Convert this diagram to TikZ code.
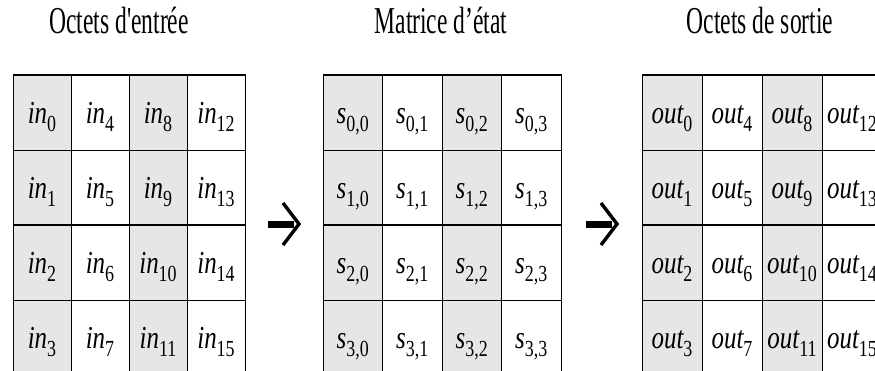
\documentclass[tikz,border=0pt]{standalone}
\usepackage{fontspec}
\setmainfont{Liberation Serif}
\newfontfamily\titlefont[FakeStretch=0.62]{Liberation Serif}
\newfontfamily\cellfont[FakeStretch=0.78]{Liberation Serif}
\definecolor{cellgray}{HTML}{E6E6E6}
\newcommand{\entry}[2]{{\cellfont\fontsize{32}{34}\selectfont\itshape #1\raisebox{-8pt}{\upshape\fontsize{23}{25}\selectfont #2}}}
\tikzset{
  gridline/.style={draw=black, line width=0.8pt},
  topline/.style={draw=black, line width=1.3pt},
  midline/.style={draw=black, line width=1.9pt},
  heading/.style={anchor=base, inner sep=0pt, font=\titlefont\fontsize{38}{40}\selectfont},
  entrytext/.style={anchor=base, inner sep=0pt},
  shaft/.style={line width=7pt},
  barb/.style={line width=3.4pt, line join=miter},
}
\begin{document}
\begin{tikzpicture}[x=1pt,y=-1pt]
\clip (0,0) rectangle (875,370);
\fill[white] (0,0) rectangle (875,370);

% titles
\node[heading] (title-in) at (119,33) {Octets d'entrée};
\node[heading] (title-state) at (441,33) {Matrice d’état};
\node[heading] (title-out) at (760,33) {Octets de sortie};

% input bytes
\foreach \c in {0,2} \fill[cellgray] (13+58*\c,75) rectangle ++(58,300);
\foreach \c in {0,...,4} \draw[gridline] (13+58*\c,75) -- ++(0,300);
\foreach \r in {1,3} \draw[gridline] (13,75+75*\r) -- ++(232,0);
\draw[topline] (13,75) -- ++(233,0);
\draw[midline] (13,225) -- ++(232,0);
\foreach \c in {0,...,3}
  \foreach \r in {0,...,3} {
    \pgfmathtruncatemacro\k{4*\c+\r}
    \node[entrytext] (in-\r-\c) at (42+58*\c,123+75*\r) {\entry{in}{\k}};
  }

% state
\foreach \c in {0,2} \fill[cellgray] (323+59.5*\c,75) rectangle ++(59.5,300);
\foreach \c in {0,...,4} \draw[gridline] (323+59.5*\c,75) -- ++(0,300);
\foreach \r in {1,3} \draw[gridline] (323,75+75*\r) -- ++(238,0);
\draw[topline] (323,75) -- ++(239,0);
\draw[midline] (323,225) -- ++(238,0);
\foreach \c in {0,...,3}
  \foreach \r in {0,...,3}
    \node[entrytext] (st-\r-\c) at (352.75+59.5*\c,123+75*\r) {\entry{s}{\r,\c}};

% output bytes
\foreach \c in {0,2} \fill[cellgray] (642+60*\c,75) rectangle ++(60,300);
\foreach \c in {0,...,4} \draw[gridline] (642+60*\c,75) -- ++(0,300);
\foreach \r in {1,3} \draw[gridline] (642,75+75*\r) -- ++(240,0);
\draw[topline] (642,75) -- ++(240,0);
\draw[midline] (642,225) -- ++(240,0);
\foreach \c in {0,...,3}
  \foreach \r in {0,...,3} {
    \pgfmathtruncatemacro\k{4*\c+\r}
    \node[entrytext] (out-\r-\c) at (672+60*\c,123+75*\r) {\entry{out}{\k}};
  }

% arrows
\coordinate (arr1-tail) at (268,224);
\coordinate (arr1-tip) at (299,224);
\draw[shaft] (arr1-tail) -- ([xshift=-5]arr1-tip);
\draw[barb] ([shift={(-16,-21)}]arr1-tip) -- (arr1-tip) -- ([shift={(-16,21)}]arr1-tip);
\coordinate (arr2-tail) at (586,224);
\coordinate (arr2-tip) at (617,224);
\draw[shaft] (arr2-tail) -- ([xshift=-5]arr2-tip);
\draw[barb] ([shift={(-16,-21)}]arr2-tip) -- (arr2-tip) -- ([shift={(-16,21)}]arr2-tip);
\end{tikzpicture}
\end{document}
